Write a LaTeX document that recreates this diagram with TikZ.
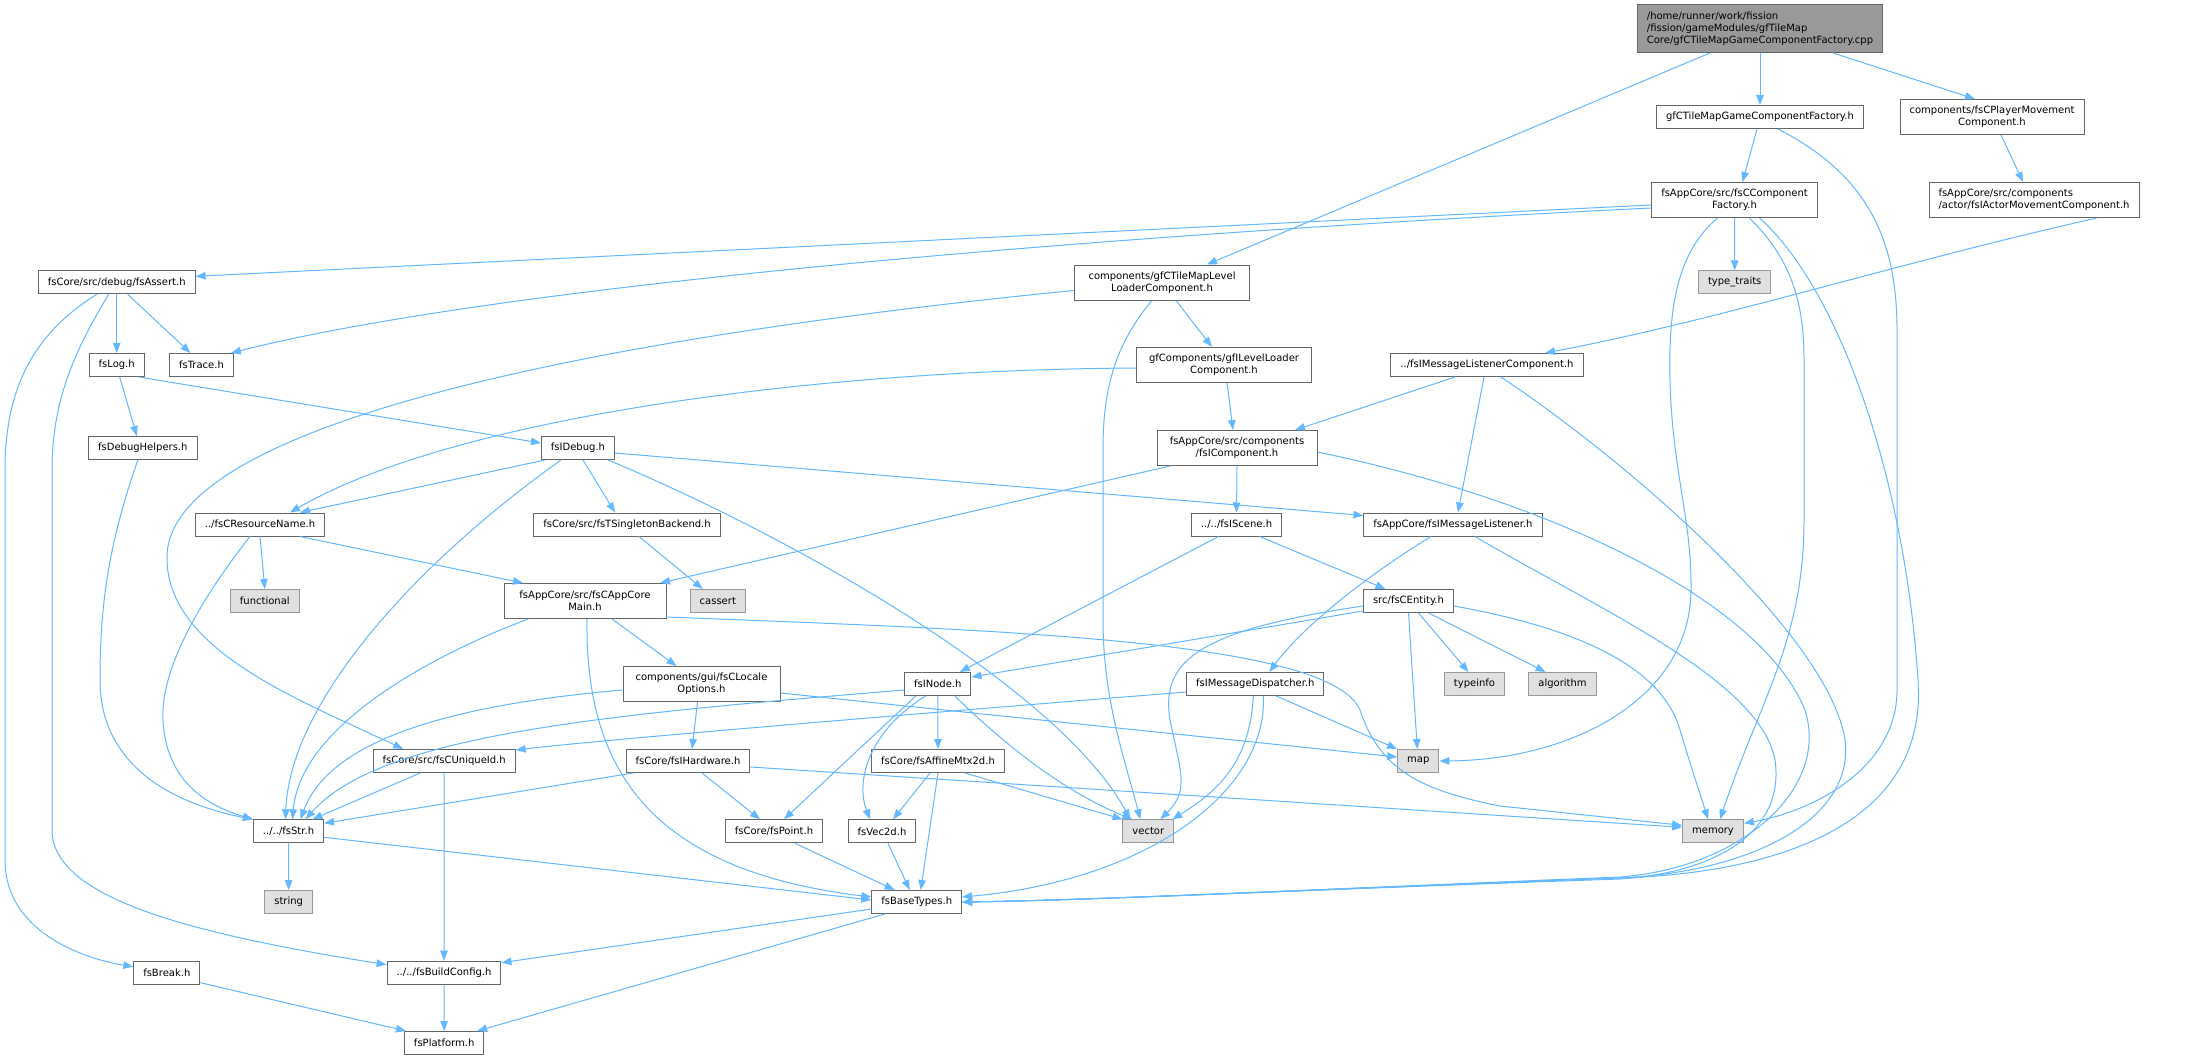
\documentclass[tikz,border=0pt]{standalone}
\usepackage{fontspec}
\setmainfont{DejaVu Sans}
\usetikzlibrary{arrows.meta}
\definecolor{edgec}{HTML}{63B8FF}
\definecolor{bord}{HTML}{666666}
\definecolor{sysb}{HTML}{999999}
\definecolor{sysf}{HTML}{E0E0E0}
\definecolor{rootf}{HTML}{999999}
\newcommand{\nfont}{\fontsize{10}{12}\selectfont}
\begin{document}
\begin{tikzpicture}[x=1pt,y=-1pt,
  nd/.style={draw=bord, fill=white, line width=1pt, inner xsep=9.5pt, inner ysep=0pt, minimum height=23pt, font=\nfont, align=center, text=black},
  twol/.style={minimum height=35pt},
  sysn/.style={nd, draw=sysb, fill=sysf},
  rootn/.style={nd, fill=rootf, minimum height=48pt, minimum width=242pt, align=left},
  ln/.style={draw=edgec, line width=1pt, -{Triangle[length=10pt,width=7.5pt]}}]
\useasboundingbox[fill=white] (0,0) rectangle (2197,1060);
% nodes
\node[rootn] (root) at (1760,28.5) {/home/runner/work/fission\\/fission/gameModules/gfTileMap\\Core/gfCTileMapGameComponentFactory.cpp};
\node[nd] (gff) at (1760,117) {gfCTileMapGameComponentFactory.h};
\node[nd,twol,minimum width=183pt] (pmc) at (1992,117) {components/fsCPlayerMovement\\Component.h};
\node[nd,twol,minimum width=166pt] (ccf) at (1734.5,200) {fsAppCore/src/fsCComponent\\Factory.h};
\node[nd,twol,align=left,minimum width=208pt] (amc) at (2034,200) {fsAppCore/src/components\\/actor/fsIActorMovementComponent.h};
\node[sysn] (tt) at (1734.7,282.3) {type\_traits};
\node[nd] (assert) at (116.7,282.3) {fsCore/src/debug/fsAssert.h};
\node[nd,twol,minimum width=175pt] (tmll) at (1162,282.5) {components/gfCTileMapLevel\\LoaderComponent.h};
\node[nd] (log) at (116.7,365) {fsLog.h};
\node[nd] (trace) at (201.5,365) {fsTrace.h};
\node[nd,twol,minimum width=175pt] (gill) at (1224,365) {gfComponents/gfILevelLoader\\Component.h};
\node[nd] (imlc) at (1487,365) {../fsIMessageListenerComponent.h};
\node[nd] (dbgh) at (142.8,448) {fsDebugHelpers.h};
\node[nd] (idebug) at (578,448) {fsIDebug.h};
\node[nd,twol,minimum width=160pt] (icomp) at (1237,448) {fsAppCore/src/components\\/fsIComponent.h};
\node[nd] (resn) at (260,524.5) {../fsCResourceName.h};
\node[nd] (tsb) at (627,524.5) {fsCore/src/fsTSingletonBackend.h};
\node[nd] (iscene) at (1236.5,524.5) {../../fsIScene.h};
\node[nd] (iml) at (1453,524.5) {fsAppCore/fsIMessageListener.h};
\node[sysn] (func) at (264.8,601) {functional};
\node[nd,twol,minimum width=162pt] (acm) at (585,601) {fsAppCore/src/fsCAppCore\\Main.h};
\node[sysn] (cassert) at (717.8,601) {cassert};
\node[nd] (entity) at (1408.5,601) {src/fsCEntity.h};
\node[nd,twol,minimum width=157pt] (locale) at (701.5,684) {components/gui/fsCLocale\\Options.h};
\node[nd] (inode) at (937.8,684) {fsINode.h};
\node[nd] (imd) at (1255.3,684) {fsIMessageDispatcher.h};
\node[sysn] (typeinfo) at (1474.5,684) {typeinfo};
\node[sysn] (algorithm) at (1562.5,684) {algorithm};
\node[nd] (uid) at (444.2,761) {fsCore/src/fsCUniqueId.h};
\node[nd] (hw) at (688,761) {fsCore/fsIHardware.h};
\node[nd] (aff) at (938,761) {fsCore/fsAffineMtx2d.h};
\node[sysn] (map) at (1418.3,761) {map};
\node[nd] (str) at (288.5,831.3) {../../fsStr.h};
\node[nd] (point) at (774,831.3) {fsCore/fsPoint.h};
\node[nd] (vec) at (882,831.3) {fsVec2d.h};
\node[sysn] (vector) at (1148.3,831.3) {vector};
\node[sysn] (memory) at (1713,831.3) {memory};
\node[sysn] (string) at (288.7,902) {string};
\node[nd] (bt) at (916.7,902) {fsBaseTypes.h};
\node[nd] (brk) at (166.8,972.7) {fsBreak.h};
\node[nd] (bc) at (444,972.7) {../../fsBuildConfig.h};
\node[nd] (plat) at (444.2,1043) {fsPlatform.h};
% edges
\draw[ln] (root.south) -- (gff.north);
\draw[ln] ([xshift=73pt]root.south) -- ([xshift=-17pt]pmc.north);
\draw[ln] ([xshift=-50pt]root.south) -- ([xshift=45pt]tmll.north);
\draw[ln] ([xshift=-3pt]gff.south) -- ([xshift=8pt]ccf.north);
\draw[ln] ([xshift=18pt]gff.south) .. controls (1868,175) and (1897,240) .. (1897,330) -- (1897,690) .. controls (1897,770) and (1810,812) .. ([yshift=8pt]memory.east);
\draw[ln] ([xshift=9pt]pmc.south) -- ([xshift=-11pt]amc.north);
\draw[ln] ([xshift=63pt]amc.south) .. controls (1900,262) and (1720,320) .. ([xshift=58pt]imlc.north);
\draw[ln] ([yshift=-5pt]ccf.west) -- ([yshift=6pt]assert.east);
\draw[ln] ([yshift=-8pt]ccf.west) .. controls (1100,235) and (500,285) .. ([xshift=-3pt]trace.north east);
\draw[ln] (ccf.south) -- (tt.north);
\draw[ln] ([xshift=-17pt]ccf.south) .. controls (1680,250) and (1668,300) .. (1670,380) .. controls (1672,470) and (1692,520) .. (1691,590) .. controls (1690,700) and (1570,760) .. (map.east);
\draw[ln] ([xshift=15pt]ccf.south) .. controls (1790,258) and (1804,300) .. (1804,360) -- (1804,520) .. controls (1804,640) and (1760,700) .. ([xshift=7pt]memory.north);
\draw[ln] ([xshift=25pt]ccf.south) .. controls (1840,290) and (1905,480) .. (1918,680) .. controls (1930,850) and (1720,875) .. (1620,878) .. controls (1300,890) and (1100,900) .. (bt.east);
\draw[ln] (assert.south) -- (log.north);
\draw[ln] ([xshift=11pt]assert.south) -- ([xshift=-11pt]trace.north);
\draw[ln] ([xshift=-20pt]assert.south) .. controls (40,330) and (5,380) .. (5,470) -- (5,860) .. controls (5,930) and (80,958) .. ([yshift=6pt]brk.west);
\draw[ln] ([xshift=-8pt]assert.south) .. controls (75,350) and (52,400) .. (52,470) -- (52,830) .. controls (52,900) and (200,935) .. ([yshift=8pt]bc.west);
\draw[ln] ([xshift=3pt]log.south) -- ([xshift=-6pt]dbgh.north);
\draw[ln] ([xshift=22pt]log.south) -- ([yshift=5pt]idebug.west);
\draw[ln] ([xshift=-5pt]dbgh.south) .. controls (110,540) and (100,600) .. (100,680) .. controls (100,770) and (180,805) .. (str.north west);
\draw[ln] ([xshift=-10pt]resn.south) .. controls (200,600) and (160,670) .. (163,720) .. controls (166,780) and (205,805) .. (str.north west);
\draw[ln] (resn.south) -- (func.north);
\draw[ln] ([xshift=40pt]resn.south) -- ([xshift=-62pt]acm.north);
\draw[ln] ([xshift=-33pt]idebug.south) -- ([xshift=40pt]resn.north);
\draw[ln] ([xshift=5pt]idebug.south) -- ([xshift=-12pt]tsb.north);
\draw[ln] ([xshift=-17pt]idebug.south) .. controls (420,560) and (290,700) .. ([xshift=-3pt]str.north);
\draw[ln] ([xshift=30pt]idebug.south) .. controls (800,540) and (1060,690) .. ([xshift=-18pt]vector.north);
\draw[ln] ([yshift=-5pt]idebug.east) -- ([yshift=9pt]iml.west);
\draw[ln] ([xshift=12pt]tsb.south) -- ([xshift=-15pt]cassert.north);
\draw[ln] ([xshift=14pt]tmll.south) -- ([xshift=-12pt]gill.north);
\draw[ln] ([yshift=-8pt]tmll.west) .. controls (620,335) and (168,420) .. (167,557) .. controls (166,650) and (300,700) .. ([xshift=-41pt]uid.north);
\draw[ln] ([xshift=-10pt]tmll.south) .. controls (1110,350) and (1103,400) .. (1103,450) -- (1103,620) .. controls (1103,700) and (1125,760) .. ([xshift=-8pt]vector.north);
\draw[ln] ([yshift=-3pt]gill.west) .. controls (800,370) and (450,420) .. ([xshift=30pt]resn.north);
\draw[ln] ([xshift=3pt]gill.south) -- ([xshift=-4pt]icomp.north);
\draw[ln] ([xshift=-32pt]imlc.south) -- ([xshift=58pt]icomp.north);
\draw[ln] ([xshift=-3pt]imlc.south) -- ([xshift=5pt]iml.north);
\draw[ln] ([xshift=14pt]imlc.south) .. controls (1640,470) and (1830,640) .. (1845,740) .. controls (1855,820) and (1750,872) .. (1620,878) .. controls (1300,890) and (1100,900) .. (bt.east);
\draw[ln] ([xshift=-67pt]icomp.south) -- ([xshift=75pt]acm.north);
\draw[ln] (icomp.south) -- (iscene.north);
\draw[ln] ([yshift=-4pt]icomp.east) .. controls (1550,500) and (1760,600) .. (1805,710) .. controls (1830,790) and (1740,868) .. (1620,877) .. controls (1300,890) and (1100,900) .. (bt.east);
\draw[ln] ([xshift=-18pt]iscene.south) -- ([xshift=22pt]inode.north);
\draw[ln] ([xshift=23pt]iscene.south) -- ([xshift=-23pt]entity.north);
\draw[ln] ([xshift=-22pt]iml.south) .. controls (1360,580) and (1300,630) .. ([xshift=14pt]imd.north);
\draw[ln] ([xshift=22pt]iml.south) .. controls (1600,610) and (1760,680) .. (1775,760) .. controls (1785,830) and (1720,872) .. (1620,879) .. controls (1300,890) and (1100,900) .. (bt.east);
\draw[ln] ([xshift=27pt]acm.south) -- ([xshift=-25pt]locale.north);
\draw[ln] ([xshift=-57pt]acm.south) .. controls (420,660) and (300,730) .. ([xshift=4pt]str.north);
\draw[ln] ([xshift=2pt]acm.south) .. controls (585,770) and (650,870) .. ([yshift=5pt]bt.west);
\draw[ln] ([yshift=-16pt]acm.east) .. controls (1000,630) and (1330,640) .. (1360,710) .. controls (1380,770) and (1420,790) .. (1500,806) -- ([yshift=6pt]memory.west);
\draw[ln] ([xshift=-4pt]locale.south) -- ([xshift=4pt]hw.north);
\draw[ln] ([yshift=-6pt]locale.west) .. controls (450,705) and (330,740) .. ([xshift=12pt]str.north);
\draw[ln] ([yshift=-9pt]locale.east) -- ([yshift=4pt]map.west);
\draw[ln] ([yshift=-6pt]inode.west) .. controls (600,715) and (380,735) .. ([xshift=17pt]str.north);
\draw[ln] (inode.south) -- (aff.north);
\draw[ln] ([xshift=-22pt]inode.south) -- ([xshift=10pt]point.north);
\draw[ln] ([xshift=-12pt]inode.south) .. controls (870,730) and (855,780) .. ([xshift=-12pt]vec.north);
\draw[ln] ([xshift=17pt]inode.south) .. controls (1000,740) and (1060,790) .. ([xshift=-16pt]vector.north);
\draw[ln] ([yshift=-8pt]imd.west) .. controls (900,715) and (600,740) .. ([yshift=-1pt]uid.north east);
\draw[ln] ([xshift=21pt]imd.south) -- (map.north west);
\draw[ln] ([xshift=-2pt]imd.south) .. controls (1250,760) and (1220,790) .. ([xshift=24pt]vector.north);
\draw[ln] ([xshift=8pt]imd.south) .. controls (1268,790) and (1150,880) .. ([yshift=5pt]bt.east);
\draw[ln] ([yshift=-10pt]entity.west) -- ([yshift=7pt]inode.east);
\draw[ln] ([xshift=10pt]entity.south) -- ([xshift=-6pt]typeinfo.north);
\draw[ln] ([xshift=20pt]entity.south) -- ([xshift=-17pt]algorithm.north);
\draw[ln] (entity.south) -- ([xshift=-1pt]map.north);
\draw[ln] ([yshift=-5pt]entity.east) .. controls (1560,625) and (1660,660) .. (1680,730) .. controls (1692,770) and (1702,800) .. ([xshift=-5pt]memory.north);
\draw[ln] ([yshift=-5pt]entity.west) .. controls (1200,630) and (1160,660) .. (1170,720) .. controls (1180,770) and (1190,790) .. ([xshift=12pt]vector.north);
\draw[ln] ([xshift=-24pt]uid.south) -- ([xshift=24pt]str.north);
\draw[ln] (uid.south) -- (bc.north);
\draw[ln] ([xshift=14pt]hw.south) -- ([xshift=-14pt]point.north);
\draw[ln] ([xshift=-55pt]hw.south) -- ([yshift=8pt]str.east);
\draw[ln] ([yshift=-6pt]hw.east) -- ([yshift=4pt]memory.west);
\draw[ln] ([xshift=-8pt]aff.south) -- ([xshift=11pt]vec.north);
\draw[ln] (aff.south) -- ([xshift=4pt]bt.north);
\draw[ln] ([xshift=27pt]aff.south) -- (vector.north west);
\draw[ln] ([xshift=21pt]point.south) -- ([xshift=-22pt]bt.north);
\draw[ln] ([xshift=6pt]vec.south) -- ([xshift=-7pt]bt.north);
\draw[ln] (str.south) -- (string.north);
\draw[ln] ([yshift=-6pt]str.east) -- ([yshift=2pt]bt.west);
\draw[ln] ([yshift=-7pt]bt.west) -- ([yshift=10pt]bc.east);
\draw[ln] ([xshift=-32pt]bt.south) -- ([xshift=33pt]plat.north);
\draw[ln] (bc.south) -- (plat.north);
\draw[ln] ([yshift=-10pt]brk.east) -- ([xshift=2pt]plat.north west);
\end{tikzpicture}
\end{document}
